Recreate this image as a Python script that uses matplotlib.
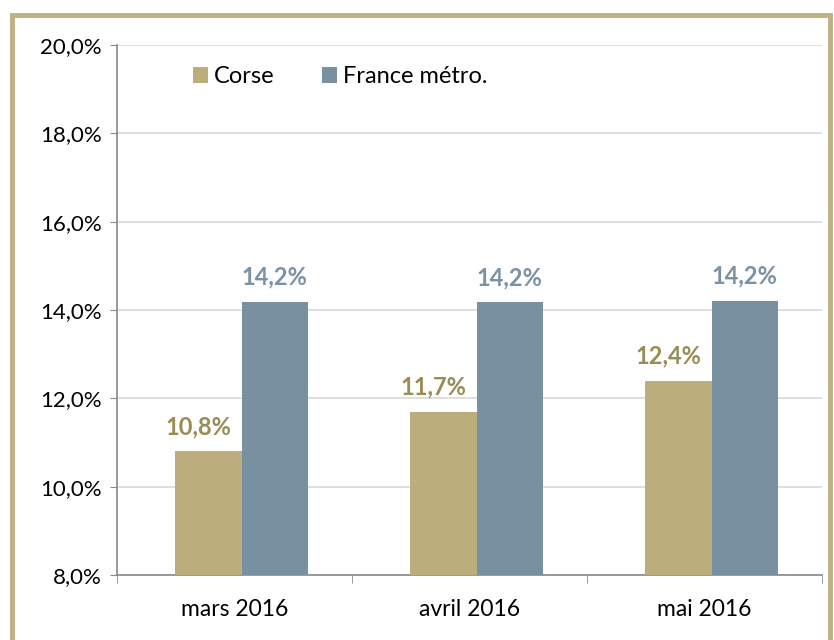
import numpy as np
import matplotlib.pyplot as plt
from matplotlib.patches import Rectangle
from matplotlib.ticker import FixedLocator

mois = ["mars 2016", "avril 2016", "mai 2016"]
corse = [10.8, 11.7, 12.4]
france = [14.19, 14.17, 14.21]
corse_lbl = ["10,8%", "11,7%", "12,4%"]
france_lbl = ["14,2%", "14,2%", "14,2%"]
yticks = [8, 10, 12, 14, 16, 18, 20]

c_corse = "#bcae7c"
c_france = "#7890a0"

plt.rcParams['font.family'] = ['Lato', 'DejaVu Sans']

fig = plt.figure(figsize=(8.34, 6.4), dpi=100)
W, H = 834, 640
ax = fig.add_axes([117 / W, 1 - 575 / H, (822 - 117) / W, (575 - 45) / H])

x = np.arange(len(mois))
bw = 0.283
b1 = ax.bar(x - bw / 2 + 0.03, corse, bw, color=c_corse, label="Corse", zorder=3)
b2 = ax.bar(x + bw / 2 + 0.03, france, bw, color=c_france, label="France métro.", zorder=3)

for r, t in zip(b1, corse_lbl):
    ax.text(r.get_x() + r.get_width() / 2 - 0.04, r.get_height() + 0.3, t,
            ha="center", va="bottom", fontsize=17, fontweight="bold", color="#9a8c55")
for r, t in zip(b2, france_lbl):
    ax.text(r.get_x() + r.get_width() / 2, r.get_height() + 0.3, t,
            ha="center", va="bottom", fontsize=17, fontweight="bold", color="#7a92a4")

ax.set_xlim(-0.5, 2.5)
ax.set_ylim(8, 20)
ax.set_yticks(yticks)
ax.set_yticklabels([f"{v:.1f}%".replace(".", ",") for v in yticks], fontsize=16)
ax.set_xticks(x)
ax.set_xticklabels(mois, fontsize=16.5)
ax.tick_params(axis="x", length=0, pad=17)
ax.xaxis.set_minor_locator(FixedLocator([-0.5, 0.5, 1.5, 2.5]))
ax.tick_params(axis="x", which="minor", length=6, color="#888888")
ax.tick_params(axis="y", length=5, color="#888888", pad=6)

ax.grid(axis="y", color="#d9d9d9", linewidth=1.2, zorder=0)
for s in ["top", "right"]:
    ax.spines[s].set_visible(False)
for s in ["left", "bottom"]:
    ax.spines[s].set_color("#888888")
    ax.spines[s].set_linewidth(1.2)

ax.legend(loc="upper left", bbox_to_anchor=(0.077, 1.0), ncol=2, frameon=False,
          fontsize=17, handlelength=0.65, handleheight=0.65, handletextpad=0.25,
          columnspacing=2.0)

# cadre
fig.patches.append(Rectangle((12 / W, -0.05), (830 - 12) / W, 1.05 - 15 / H,
                             transform=fig.transFigure, fill=False,
                             edgecolor="#c0b183", linewidth=3.5))

fig.savefig("out.png", dpi=100)
